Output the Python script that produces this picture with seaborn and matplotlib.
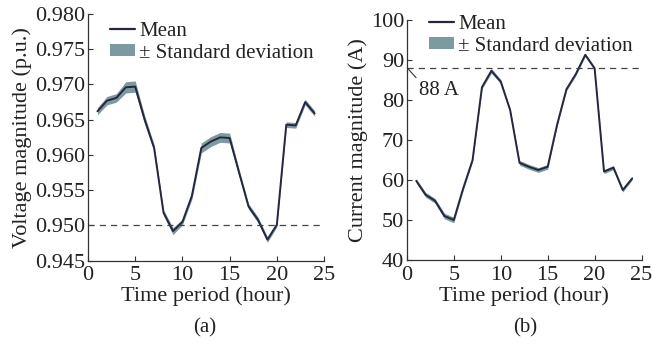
import numpy as np
import pandas as pd
import matplotlib
matplotlib.use("Agg")
import matplotlib.pyplot as plt
import seaborn as sns
from matplotlib.lines import Line2D
from matplotlib.patches import Patch

hours = list(range(1, 25))
voltage_mean = [0.9662, 0.9677, 0.9681, 0.9696, 0.9697, 0.9650, 0.9610, 0.9518,
                0.9492, 0.9505, 0.9542, 0.9610, 0.9619, 0.9625, 0.9624, 0.9575,
                0.9527, 0.9508, 0.9480, 0.9501, 0.9643, 0.9642, 0.9675, 0.9659]
voltage_std = [0.0005, 0.0006, 0.0006, 0.0008, 0.0008, 0.0006, 0.0005, 0.0004,
               0.0005, 0.0004, 0.0005, 0.0007, 0.0007, 0.0007, 0.0007, 0.0005,
               0.0004, 0.0004, 0.0004, 0.0003, 0.0004, 0.0004, 0.0004, 0.0004]
current_mean = [59.8, 56.3, 54.8, 51.0, 50.0, 57.9, 65.0, 83.2, 87.3, 84.6, 77.5, 64.3,
                63.3, 62.5, 63.3, 73.8, 82.7, 86.5, 91.3, 87.9, 62.1, 63.1, 57.5, 60.4]
current_std = [0.5, 0.6, 0.6, 0.7, 0.7, 0.5, 0.4, 0.4, 0.6, 0.5, 0.4, 0.6,
               0.6, 0.6, 0.6, 0.4, 0.4, 0.4, 0.4, 0.4, 0.5, 0.5, 0.5, 0.4]
voltage_limit = 0.950
current_limit = 88
voltage_ticks = [0.945, 0.950, 0.955, 0.960, 0.965, 0.970, 0.975, 0.980]
current_ticks = [40, 50, 60, 70, 80, 90, 100]
x_ticks = [0, 5, 10, 15, 20, 25]

sns.set_style("ticks")
plt.rcParams['font.family'] = ['Liberation Serif', 'DejaVu Serif']
plt.rcParams['xtick.direction'] = 'in'
plt.rcParams['ytick.direction'] = 'in'

FS = 16
LFS = 15
LINE_C = '#262640'
BAND_C = '#7b9ba1'
TXT_C = '#222222'

df = pd.DataFrame({'hour': hours, 'voltage': voltage_mean, 'vstd': voltage_std,
                   'current': current_mean, 'cstd': current_std})

fig = plt.figure(figsize=(6.52, 3.46), dpi=100)
ax1 = fig.add_axes([0.135, 0.2465, 0.362, 0.713])
ax2 = fig.add_axes([0.624, 0.2486, 0.360, 0.6935])

def style(ax):
    sns.despine(ax=ax)
    for s in ['left', 'bottom']:
        ax.spines[s].set_color('#333333')
        ax.spines[s].set_linewidth(0.9)
    ax.tick_params(labelsize=FS, colors='#333333', labelcolor=TXT_C, length=3.5, width=0.8)
    ax.tick_params(axis='x', pad=4)
    ax.tick_params(axis='y', pad=2)

# (a) voltage
ax1.fill_between(df['hour'], df['voltage'] - df['vstd'], df['voltage'] + df['vstd'],
                 color=BAND_C, linewidth=0)
sns.lineplot(data=df, x='hour', y='voltage', ax=ax1, color=LINE_C, linewidth=1.4)
ax1.axhline(voltage_limit, color='#444444', linestyle=(0, (5, 4)), linewidth=0.9)
ax1.set_xlim(0, 25)
ax1.set_ylim(0.945, 0.980)
ax1.set_xticks(x_ticks)
ax1.set_yticks(voltage_ticks)
ax1.set_yticklabels([f"{v:.3f}" for v in voltage_ticks])
ax1.set_xlabel('Time period (hour)', fontsize=FS, color=TXT_C, labelpad=1)
ax1.set_ylabel('Voltage magnitude (p.u.)', fontsize=FS, color=TXT_C, labelpad=2)
style(ax1)

# (b) current
ax2.fill_between(df['hour'], df['current'] - df['cstd'], df['current'] + df['cstd'],
                 color=BAND_C, linewidth=0)
sns.lineplot(data=df, x='hour', y='current', ax=ax2, color=LINE_C, linewidth=1.4)
ax2.axhline(current_limit, color='#444444', linestyle=(0, (5, 4)), linewidth=0.9)
ax2.set_xlim(0, 25)
ax2.set_ylim(40, 100)
ax2.set_xticks(x_ticks)
ax2.set_yticks(current_ticks)
ax2.set_xlabel('Time period (hour)', fontsize=FS, color=TXT_C, labelpad=1)
ax2.set_ylabel('Current magnitude (A)', fontsize=FS, color=TXT_C, labelpad=2)
style(ax2)
ax2.annotate(f'{current_limit} A', xy=(0.05, current_limit), xytext=(1.3, 82.4),
             fontsize=LFS, color=TXT_C, ha='left', va='center',
             arrowprops=dict(arrowstyle='-', color='#333333', lw=0.8,
                             shrinkA=0, shrinkB=0, relpos=(0.0, 1.0)))

handles = [Line2D([0], [0], color=LINE_C, lw=1.6),
           Patch(facecolor=BAND_C, edgecolor='none')]
labels = ['Mean', '± Standard deviation']
for ax, anchor in [(ax1, (0.04, 1.02)), (ax2, (0.04, 1.075))]:
    leg = ax.legend(handles, labels, loc='upper left', bbox_to_anchor=anchor,
                    frameon=False, fontsize=LFS, handlelength=1.2, handleheight=0.5,
                    handletextpad=0.2, labelspacing=0.15, borderaxespad=0.2)
    for t in leg.get_texts():
        t.set_color(TXT_C)

fig.text(0.314, 0.052, '(a)', fontsize=LFS, color=TXT_C, ha='center', va='center')
fig.text(0.805, 0.052, '(b)', fontsize=LFS, color=TXT_C, ha='center', va='center')

fig.savefig('out.png', dpi=100)
